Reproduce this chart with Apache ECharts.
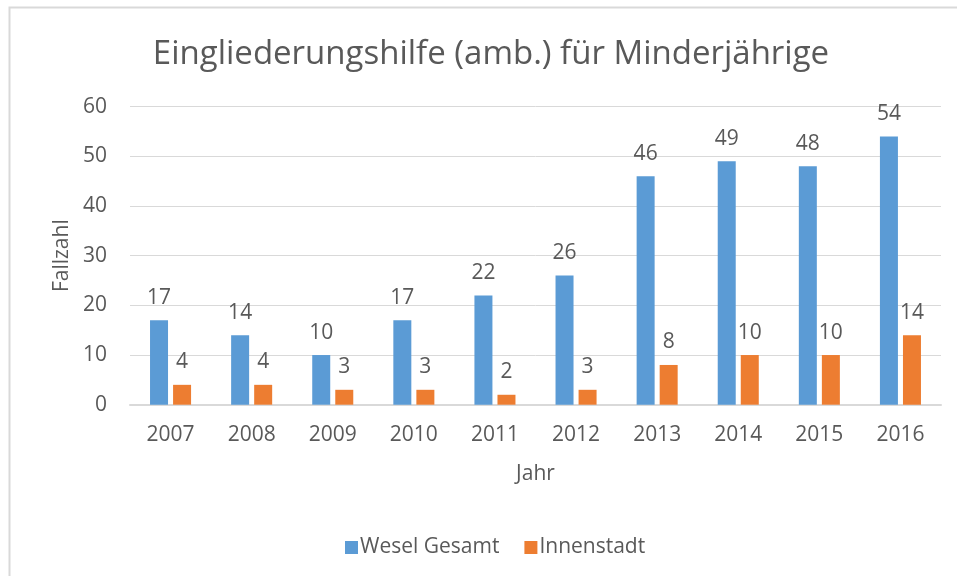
<!DOCTYPE html>
<html>
<head>
<meta charset="utf-8">
<script src="https://cdn.jsdelivr.net/npm/echarts@6/dist/echarts.min.js"></script>
<style>
html,body{margin:0;padding:0;background:#fff;}
#main{width:957px;height:576px;}
</style>
</head>
<body>
<div id="main"></div>
<script>
var years=['2007','2008','2009','2010','2011','2012','2013','2014','2015','2016'];
var wesel_gesamt=[17,14,10,17,22,26,46,49,48,54];
var innenstadt=[4,4,3,3,2,3,8,10,10,14];
var series_names=['Wesel Gesamt','Innenstadt'];

var font='"Open Sans", sans-serif';
var grey='#595959';

var myChart=echarts.init(document.getElementById('main'));
var option={
	backgroundColor:'#fff',
	textStyle:{fontFamily:font},
	title:{
		text:'Eingliederungshilfe (amb.) für Minderjährige',
		left:486,
		textAlign:'center',
		top:33,
		textStyle:{fontFamily:font,fontSize:33,fontWeight:'normal',color:grey}
	},
	graphic:[{
		type:'rect',
		shape:{x:9.5,y:7.5,width:980,height:600},
		style:{fill:'none',stroke:'#d9d9d9',lineWidth:2},
		silent:true
	}],
	legend:{
		left:340,
		top:532,
		itemWidth:13,
		itemHeight:13,
		itemGap:25,
		icon:'rect',
		textStyle:{fontFamily:font,fontSize:21,color:grey,padding:[0,0,0,-3]},
		data:series_names
	},
	grid:{left:130,right:16,top:106.7,bottom:171.3},
	xAxis:{
		type:'category',
		data:years,
		name:'Jahr',
		nameLocation:'middle',
		nameGap:59,
		nameTextStyle:{fontFamily:font,fontSize:21,color:grey},
		axisLine:{lineStyle:{color:'#d9d9d9',width:2}},
		axisTick:{show:false},
		axisLabel:{fontFamily:font,fontSize:21,color:grey,margin:20}
	},
	yAxis:{
		type:'value',
		min:0,
		max:60,
		interval:10,
		name:'Fallzahl',
		nameLocation:'middle',
		nameGap:57,
		nameTextStyle:{fontFamily:font,fontSize:21,color:grey},
		axisLine:{show:false},
		axisTick:{show:false},
		axisLabel:{fontFamily:font,fontSize:21,color:grey,margin:23},
		splitLine:{lineStyle:{color:'#d9d9d9',width:1}}
	},
	series:[]
};
var colors=['#5B9BD5','#ED7D31'];
var values=[wesel_gesamt,innenstadt];
for(var i=0;i<series_names.length;i++){
	option.series.push({
		name:series_names[i],
		type:'bar',
		barWidth:18,
		barGap:'28%',
		itemStyle:{color:colors[i]},
		label:{
			show:true,
			position:'top',
			distance:12,
			fontFamily:font,
			fontSize:21,
			color:grey
		},
		data:values[i]
	});
}
myChart.setOption(option);
</script>
</body>
</html>
